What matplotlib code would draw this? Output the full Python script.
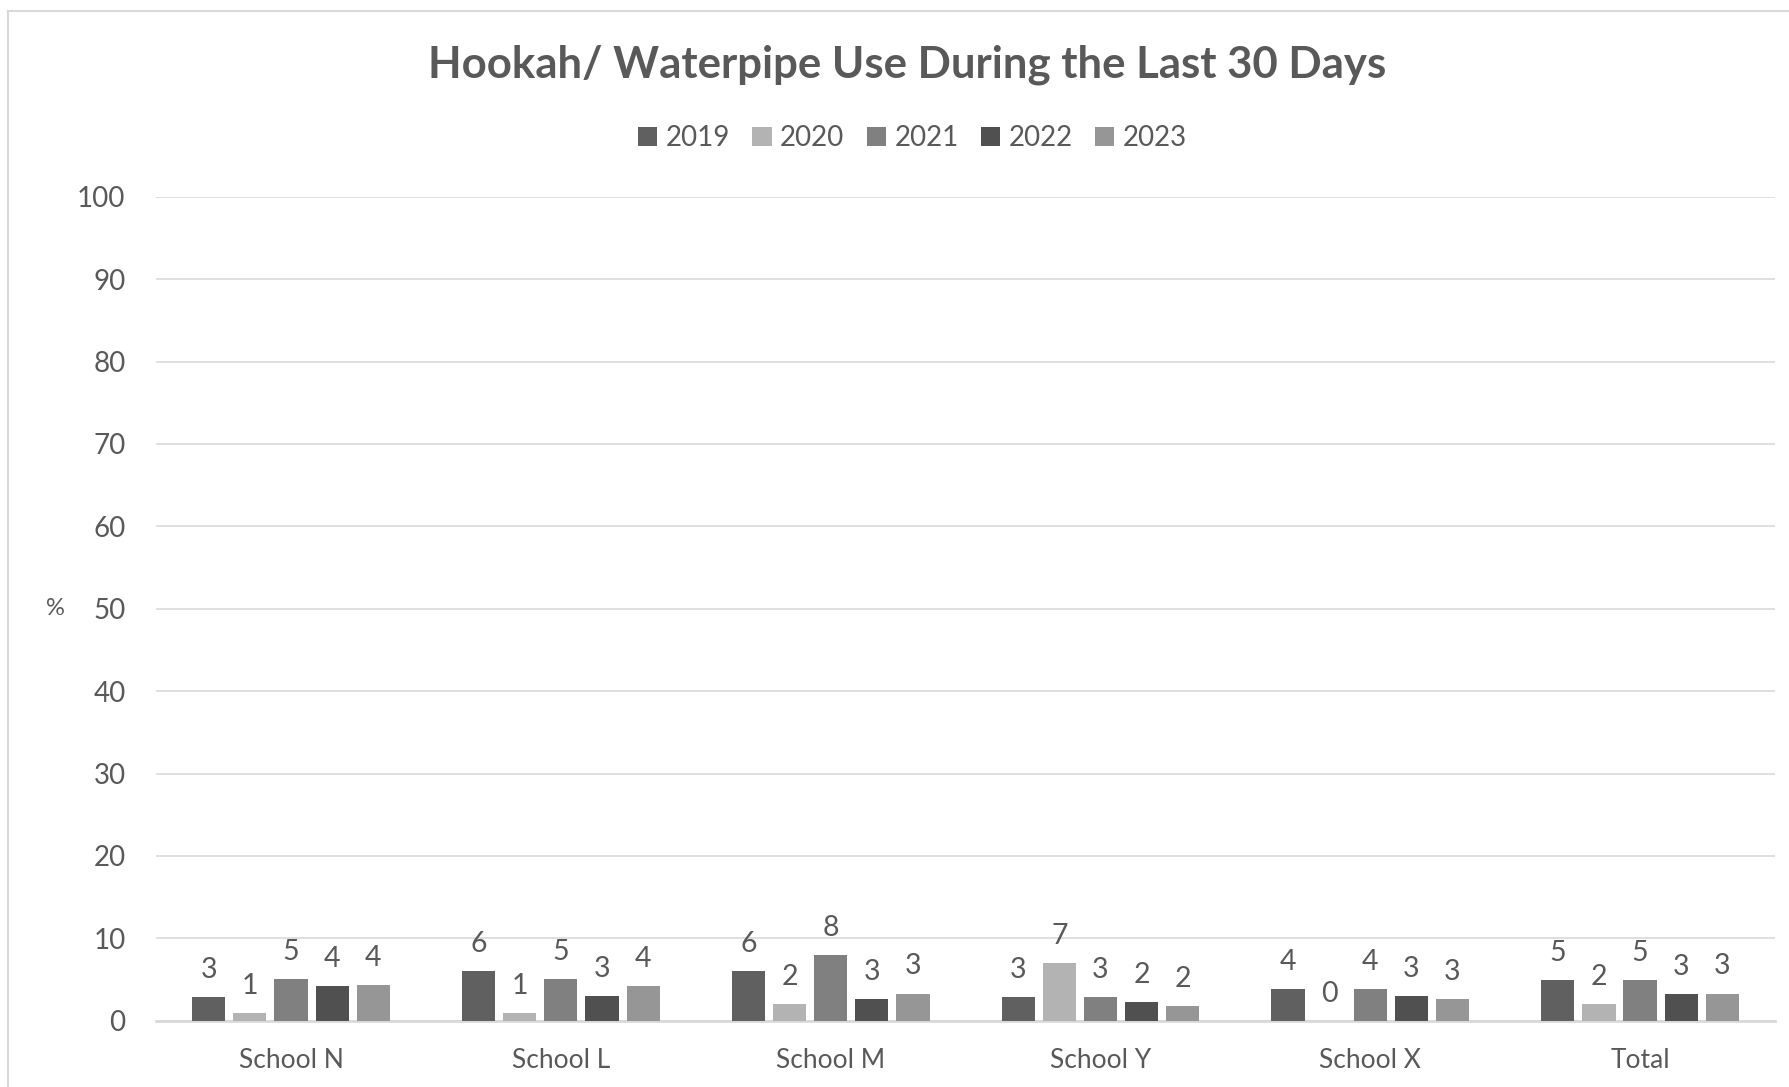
import numpy as np
import matplotlib
matplotlib.use("Agg")
import matplotlib.pyplot as plt
from matplotlib.lines import Line2D

plt.rcParams['font.family'] = ['Lato', 'DejaVu Sans']

# Chart data (percent)
schools = ["School N", "School L", "School M", "School Y", "School X", "Total"]
years = ["2019", "2020", "2021", "2022", "2023"]
v2019 = [2.9, 6.0, 6.0, 2.9, 3.9, 4.9]
v2020 = [0.9, 0.9, 2.0, 7.0, 0.0, 2.0]
v2021 = [5.0, 5.0, 8.0, 2.9, 3.9, 4.9]
v2022 = [4.2, 3.0, 2.6, 2.3, 3.0, 3.2]
v2023 = [4.3, 4.2, 3.3, 1.8, 2.6, 3.3]
series = [v2019, v2020, v2021, v2022, v2023]
colors = ["#606060", "#b3b3b3", "#808080", "#505050", "#969696"]
text_color = "#595959"
grid_color = "#d9d9d9"

fig = plt.figure(figsize=(17.9, 10.87), dpi=100)
ax = fig.add_axes([0.0872, 0.0610, 0.9044, 0.758])

x = np.arange(len(schools))
pitch = 0.1525
width = 0.123
for i, (vals, col, yr) in enumerate(zip(series, colors, years)):
    pos = x + (i - 2) * pitch
    bars = ax.bar(pos, vals, width, color=col, label=yr, zorder=3)
    for b, v in zip(bars, vals):
        ax.text(b.get_x() + b.get_width() / 2, v + 1.7, "%d" % np.floor(v + 0.5),
                ha="center", va="bottom", fontsize=20.5, color=text_color)

ax.set_xlim(-0.5, len(schools) - 0.5)
ax.set_ylim(0, 100)
ax.set_yticks(range(0, 101, 10))
ax.set_xticks(x)
ax.set_xticklabels(schools)
ax.tick_params(axis="y", length=0, pad=22, labelsize=20, labelcolor=text_color)
ax.tick_params(axis="x", length=0, pad=20, labelsize=19, labelcolor=text_color)
ax.yaxis.grid(True, color=grid_color, linewidth=1.2, zorder=0)
for s in ["top", "right", "left"]:
    ax.spines[s].set_visible(False)
ax.spines["bottom"].set_color(grid_color)
ax.spines["bottom"].set_linewidth(2)

fig.text(55 / 1790, 0.44, "%", fontsize=17, color=text_color,
         ha="center", va="center")

fig.suptitle("Hookah/ Waterpipe Use During the Last 30 Days", x=0.507, y=0.940,
             fontsize=31.5, fontweight="bold", color=text_color, va="center")

leg = fig.legend(loc="center", bbox_to_anchor=(0.5097, 0.873), ncol=5, frameon=False,
                 fontsize=20, handlelength=0.7, handleheight=0.7, handletextpad=0.3,
                 columnspacing=0.8, labelcolor=text_color)

# light chart border (top and left edges)
fig.add_artist(Line2D([8 / 1790, 8 / 1790], [0, 1 - 11 / 1087], color=grid_color,
                      linewidth=1.5, transform=fig.transFigure))
fig.add_artist(Line2D([8 / 1790, 1], [1 - 11 / 1087, 1 - 11 / 1087], color=grid_color,
                      linewidth=1.5, transform=fig.transFigure))

fig.savefig("out.png", dpi=100)
